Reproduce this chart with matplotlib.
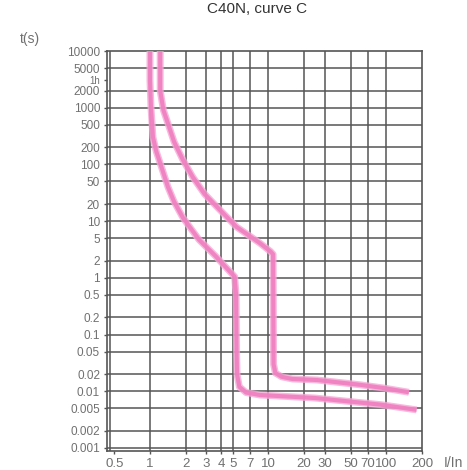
import matplotlib
matplotlib.use('Agg')
import matplotlib.pyplot as plt

title = "C40N, curve C"
y_axis_label = "t(s)"
x_axis_label = "I/In"

x_ticks = [0.5, 1, 2, 3, 4, 5, 7, 10, 20, 30, 50, 70, 100, 200]
x_tick_labels = ["0.5", "1", "2", "3", "4", "5", "7", "10", "20", "30", "50", "70", "100", "200"]
x_grid = [0.46, 1, 2, 3, 4, 5, 7, 10, 20, 30, 50, 70, 100]

y_ticks = [10000, 5000, 3100, 2000, 1000, 500, 200, 100, 50, 20, 10, 5, 2, 1,
           0.5, 0.2, 0.1, 0.05, 0.02, 0.01, 0.005, 0.002, 0.001]
y_tick_labels = ["10000", "5000", "1h", "2000", "1000", "500", "200", "100", "50", "20",
                 "10", "5", "2", "1", "0.5", "0.2", "0.1", "0.05", "0.02", "0.01",
                 "0.005", "0.002", "0.001"]
y_grid = [5000, 2000, 1000, 500, 200, 100, 50, 20, 10, 5, 2, 1, 0.5, 0.2, 0.1,
          0.05, 0.02, 0.01, 0.005, 0.002, 0.001]

lower_I = [1.0, 1.0, 1.02, 1.06, 1.13, 1.25, 1.42, 1.6, 1.9, 2.6, 3.6, 5.2,
           5.35, 5.4, 5.45, 5.7, 6.5, 8.5, 25, 90, 180]
lower_t = [10000, 3000, 1000, 300, 170, 90, 40, 22, 11.5, 4.7, 2.4, 1.05,
           0.5, 0.05, 0.02, 0.012, 0.0095, 0.0086, 0.0076, 0.0058, 0.0047]

upper_I = [1.22, 1.22, 1.3, 1.39, 1.6, 1.9, 2.3, 2.9, 3.7, 5.4, 8.5, 10.5,
           11.0, 11.05, 11.1, 11.5, 13, 16, 26, 60, 95, 155]
upper_t = [10000, 2000, 900, 600, 250, 120, 60, 30, 17.7, 7.9, 4.1, 2.9,
           2.6, 0.3, 0.03, 0.021, 0.018, 0.0165, 0.0158, 0.013, 0.0114, 0.0096]

plt.rcParams['font.family'] = ['Liberation Sans', 'DejaVu Sans']

fig = plt.figure(figsize=(4.67, 4.70), dpi=100)
ax = fig.add_axes([107/467, 1-451/470, (422-107)/467, (451-51)/470])
ax.set_xscale('log')
ax.set_yscale('log')
ax.set_xlim(0.433, 200)
ax.set_ylim(0.000885, 10000)

grid_color = '#555555'
for xv in x_grid:
    ax.axvline(xv, color=grid_color, lw=1.1, zorder=1)
for yv in y_grid:
    ax.axhline(yv, color=grid_color, lw=1.1, zorder=1)

for I, t in ((lower_I, lower_t), (upper_I, upper_t)):
    ax.plot(I, t, color='#f5a8d6', lw=5.0, solid_capstyle='butt', solid_joinstyle='round', zorder=3, alpha=0.8)
    ax.plot(I, t, color='#f07fc0', lw=3.0, solid_capstyle='butt', solid_joinstyle='round', zorder=4, alpha=0.9)

ax.minorticks_off()
ax.set_xticks(x_ticks)
ax.set_xticklabels(x_tick_labels)
ax.set_yticks(y_ticks)
ax.set_yticklabels(y_tick_labels)
ax.tick_params(axis='x', length=2, width=1.0, color=grid_color,
               labelsize=9.5, labelcolor='#707070', pad=3)
ax.tick_params(axis='y', length=2, width=1.0, color=grid_color,
               labelsize=8.5, labelcolor='#707070', pad=3)
for lbl in ax.get_yticklabels():
    if lbl.get_text() == "1h":
        lbl.set_fontsize(7)
for s in ax.spines.values():
    s.set_color(grid_color)
    s.set_linewidth(1.2)

fig.text(257/467, 1-9/470, title, ha='center', va='center', fontsize=11, color='#333333')
fig.text(30/467, 1-39/470, y_axis_label, ha='center', va='center', fontsize=10, color='#707070')
fig.text(453/467, 1-463/470, x_axis_label, ha='center', va='center', fontsize=10, color='#707070')

fig.savefig('out.png', dpi=100)
